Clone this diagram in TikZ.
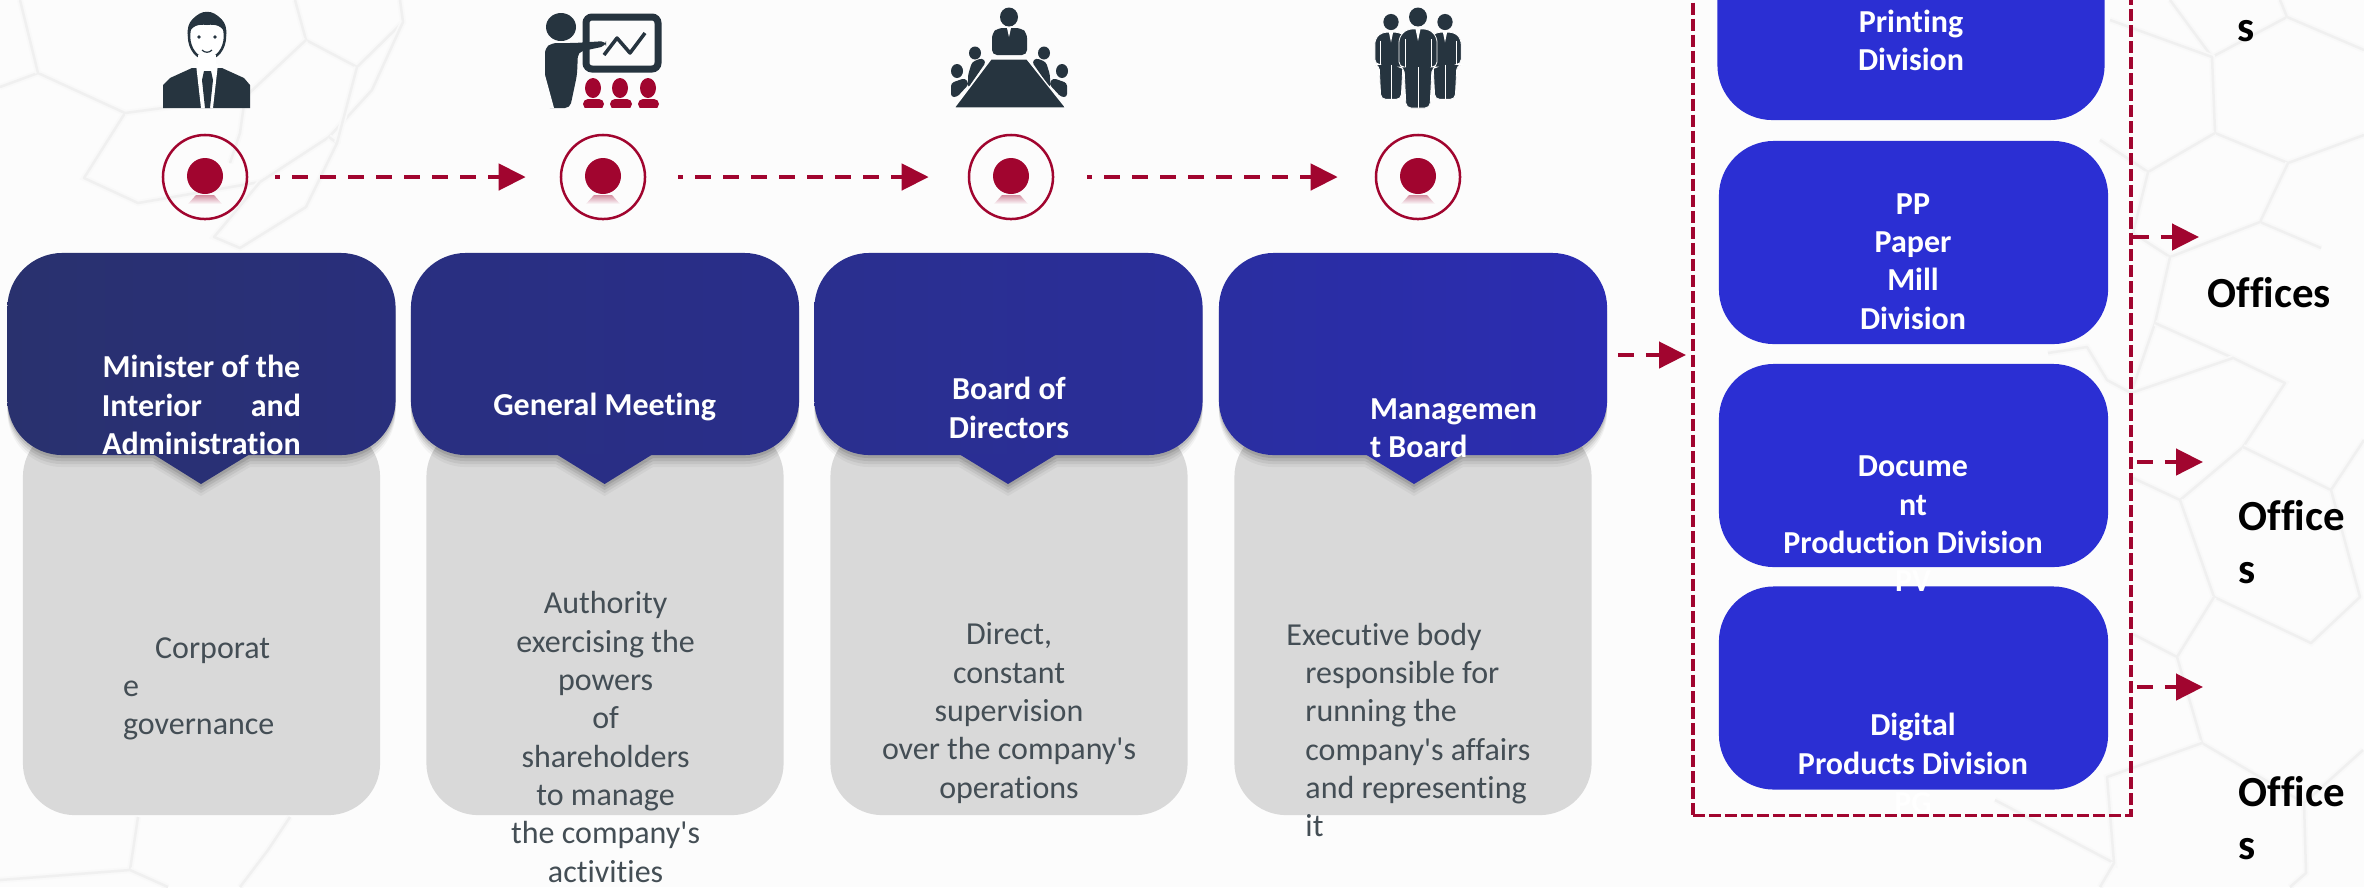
\documentclass[tikz,border=0pt]{standalone}
\usepackage{fontspec}
\setmainfont[Ligatures=NoCommon]{Carlito}
\usetikzlibrary{arrows.meta,positioning}

\definecolor{crimson}{HTML}{A1052F}
\definecolor{icondark}{HTML}{26343F}
\definecolor{divblue}{HTML}{2B2FD3}
\definecolor{cardgray}{HTML}{D9D9D9}
\definecolor{bodytext}{HTML}{444E55}
\definecolor{pagebg}{HTML}{FCFCFC}

\tikzset{
  hexline/.style={draw=black!6,line width=0.025cm,line join=round,
    preaction={draw=black!2.5,line width=0.06cm}},
  hdrshadow/.style={
    preaction={fill=black,opacity=.04,transform canvas={yshift=-0.12cm}},
    preaction={fill=black,opacity=.06,transform canvas={yshift=-0.09cm}},
    preaction={fill=black,opacity=.08,transform canvas={yshift=-0.06cm}},
    preaction={fill=black,opacity=.10,transform canvas={yshift=-0.03cm}}},
  card/.style={fill=cardgray,rounded corners=0.52cm,inner sep=0pt,
    minimum width=3.57cm,minimum height=3.9cm},
  hdrbox/.style={rounded corners=0.55cm,inner sep=0pt,hdrshadow,
    minimum width=3.88cm,minimum height=2.02cm},
  divbox/.style={fill=divblue,rounded corners=0.55cm,inner sep=0pt,
    minimum width=3.89cm,minimum height=2.03cm},
  hdrtext/.style={text=white,font=\fontsize{9.1}{10.9}\selectfont\bfseries,align=center,inner sep=0pt},
  bodylabel/.style={text=bodytext,font=\fontsize{9.1}{10.9}\selectfont,align=center,inner sep=0pt},
  officelabel/.style={text=black,font=\fontsize{12.2}{15}\selectfont\bfseries,align=left,inner sep=0pt,anchor=west},
  ring/.style={circle,draw=crimson,line width=0.025cm,minimum size=0.84cm,inner sep=0pt},
  dashflow/.style={draw=crimson,line width=0.045cm,dash pattern=on 0.16cm off 0.12cm,dash phase=0.11cm,
    -{Triangle[length=0.27cm,width=0.26cm,fill=crimson]}},
  dashstub/.style={dashflow,dash phase=0cm}
}

% ring with its red dot and the dot's faded reflection
\newcommand{\reddot}[2]{
  \node (#1) at (#2,177) [ring] {};
  \fill[crimson] (#2,176) circle (18);
  \shade[top color=crimson!45,bottom color=pagebg] (#2-9,195) -- (#2+9,195) -- (#2+17,204) -- (#2-17,204) -- cycle;
}

% standing figure in a suit, head centre at #1,#2
\newcommand{\suitman}[3]{
  \begin{scope}[shift={(#1,#2)},scale=#3]
    \fill[icondark] (0,0) ellipse (9 and 9.5);
    \filldraw[icondark,draw=white,line width=0.008cm,rounded corners=0.05cm]
      (-19,50) -- (-19,20) -- (-11,12) -- (11,12) -- (19,20) -- (19,50) -- (14,50) -- (12,91) -- (-12,91) -- (-14,50) -- cycle;
    \draw[white,line width=0.008cm] (0,50) -- (0,91) (-13,22) -- (-13,50) (13,22) -- (13,50);
    \fill[white] (-2.5,12) -- (2.5,12) -- (0,24) -- cycle;
  \end{scope}
}

\begin{document}
\begin{tikzpicture}[x=0.01cm,y=-0.01cm]
  \useasboundingbox (0,0) rectangle (2364,887);
  \clip (0,0) rectangle (2364,887);
  \fill[pagebg] (0,0) rectangle (2364,887);

  % background mesh
  \draw[hexline] (295,0) -- (306,40) -- (357,67) -- (403,22) -- (400,0);
  \draw[hexline] (306,40) -- (245,97) -- (240,133) -- (230,163);
  \draw[hexline] (0,87) -- (38,73) -- (125,113) -- (84,178) -- (138,203) -- (260,182) -- (329,137) -- (372,90) -- (403,22);
  \draw[hexline] (20,0) -- (38,73);
  \draw[hexline] (125,113) -- (245,97);
  \draw[hexline] (329,137) -- (337,143) -- (306,207) -- (240,248) -- (214,237) -- (260,182);
  \draw[hexline] (357,67) -- (337,143);
  \draw[hexline] (0,880) -- (130,870) -- (138,817);
  \draw[hexline] (130,870) -- (168,887);
  \draw[hexline] (290,817) -- (268,850) -- (240,887);
  \draw[hexline] (2170,0) -- (2212,57) -- (2287,17) -- (2280,0);
  \draw[hexline] (2287,17) -- (2364,50);
  \draw[hexline] (2110,20) -- (2212,57) -- (2215,133) -- (2288,163) -- (2364,135);
  \draw[hexline] (2100,140) -- (2148,172) -- (2215,133);
  \draw[hexline] (2288,163) -- (2260,222) -- (2321,248);
  \draw[hexline] (2148,172) -- (2133,233) -- (2170,257) -- (2260,222);
  \draw[hexline] (2170,257) -- (2155,323) -- (2131,393) -- (2107,380) -- (2087,347) -- (2048,353);
  \draw[hexline] (2155,323) -- (2233,358) -- (2285,383) -- (2243,447) -- (2180,500) -- (2131,477);
  \draw[hexline] (2131,393) -- (2233,358);
  \draw[hexline] (2243,447) -- (2331,490) -- (2364,440);
  \draw[hexline] (2180,500) -- (2214,597) -- (2311,643) -- (2360,597) -- (2331,490);
  \draw[hexline] (2214,597) -- (2177,657) -- (2131,633);
  \draw[hexline] (2177,657) -- (2202,743) -- (2304,803) -- (2363,750);
  \draw[hexline] (2202,743) -- (2107,777) -- (2114,863) -- (1995,800);
  \draw[hexline] (2304,803) -- (2306,873) -- (2290,887);
  \draw[hexline] (2114,863) -- (2100,887);

  % dark figures above the rings
  \fill[icondark] (163,108) -- (163,85) -- (170,78) -- (192,68) -- (222,68) -- (244,78) -- (250,85) -- (250,108) -- cycle;
  \fill[white] (196,64) -- (218,64) -- (213,108) -- (201,108) -- cycle;
  \fill[icondark] (204,71) -- (211,71) -- (213,80) -- (210,108) -- (205,108) -- (202,80) -- cycle;
  \filldraw[fill=white,draw=icondark,line width=0.025cm] (207,36) ellipse (18 and 23);
  \fill[white] (198,55) rectangle (216,68);
  \fill[icondark] (188,36) .. controls (183,6) and (231,6) .. (226,36) .. controls (223,25) and (215,24) .. (207,25) .. controls (199,24) and (191,25) .. (188,36) -- cycle;
  \fill[icondark] (199,37) circle (1.8) (215,37) circle (1.8);
  \draw[icondark,line width=0.012cm] (202,50) .. controls (205,53) and (209,53) .. (212,50);

  % presenter and board
  \fill[icondark] (561,27) ellipse (15 and 14);
  \fill[icondark,rounded corners=0.05cm] (545,108) -- (545,48) -- (552,43) -- (574,43) -- (606,41) -- (606,46) -- (578,52) -- (577,75) -- (570,108) -- cycle;
  \fill[pagebg] (545,75) -- (545,108) -- (554,108) -- cycle;
  \draw[icondark,line width=0.07cm,rounded corners=0.06cm] (586,17) rectangle (658,69);
  \draw[icondark,line width=0.035cm,line join=round] (604,55) -- (617,38) -- (630,53) -- (645,33);
  \fill[crimson] (593,88) ellipse (8 and 10) (620,88) ellipse (8 and 10) (648,88) ellipse (8 and 10);
  \fill[crimson,rounded corners=0.05cm] (583,109) -- (583,99) -- (604,99) -- (604,109) -- cycle;
  \fill[crimson,rounded corners=0.05cm] (610,109) -- (610,99) -- (632,99) -- (632,109) -- cycle;
  \fill[crimson,rounded corners=0.05cm] (638,109) -- (638,99) -- (659,99) -- (659,109) -- cycle;
  \fill[pagebg] (575,108) rectangle (665,115);

  % board table
  \fill[icondark] (1009,17) ellipse (9 and 9.5);
  \fill[icondark,rounded corners=0.05cm] (992,55) -- (992,33) -- (998,28) -- (1021,28) -- (1027,33) -- (1027,55) -- cycle;
  \fill[white] (1007,28) -- (1011,28) -- (1009,37) -- cycle;
  \fill[icondark] (975,53) ellipse (6 and 6.5) (957,71) ellipse (6 and 7) (1044,53) ellipse (6 and 6.5) (1062,71) ellipse (6 and 7);
  \fill[icondark,rounded corners=0.03cm] (968,75) -- (972,62) -- (982,58) -- (986,62) -- (968,88) -- cycle;
  \fill[icondark,rounded corners=0.03cm] (1050,75) -- (1046,62) -- (1036,58) -- (1032,62) -- (1050,88) -- cycle;
  \fill[icondark,rounded corners=0.03cm] (951,97) -- (951,83) -- (965,78) -- (969,84) -- (957,97) -- cycle;
  \fill[icondark,rounded corners=0.03cm] (1067,97) -- (1067,83) -- (1053,78) -- (1049,84) -- (1061,97) -- cycle;
  \filldraw[fill=icondark,draw=white,line width=0.012cm] (991,59) -- (1027,59) -- (1066,108) -- (954,108) -- cycle;
  \fill[pagebg] (945,108) rectangle (1075,115);

  % management group
  \suitman{1391}{22}{0.85}
  \suitman{1445}{22}{0.85}
  \suitman{1418}{17}{1}

  % rings and dashed flow
  \reddot{ringA}{205}
  \reddot{ringB}{603}
  \reddot{ringC}{1011}
  \reddot{ringD}{1418}
  \draw[dashflow,shorten <=0.27cm,shorten >=0.34cm] (ringA) -- (ringB);
  \draw[dashflow,shorten <=0.32cm,shorten >=0.39cm] (ringB) -- (ringC);
  \draw[dashflow,shorten <=0.33cm,shorten >=0.37cm] (ringC) -- (ringD);

  % cards
  \node (cardA) at (201.5,620) [card] {};
  \node (cardB) at (605,620) [card] {};
  \node (cardC) at (1009,620) [card] {};
  \node (cardD) at (1413,620) [card] {};

  % headers
  \path[hdrshadow] (153,455) -- (201,484) -- (250,455) -- cycle;
  \path[hdrshadow] (556,455) -- (604.6,484) -- (653,455) -- cycle;
  \path[hdrshadow] (959,455) -- (1008,484) -- (1057,455) -- cycle;
  \path[hdrshadow] (1365,455) -- (1414,484) -- (1463,455) -- cycle;
  \node (hdrA) at (201.5,354) [hdrbox,left color={rgb,255:red,41;green,49;blue,110},right color={rgb,255:red,41;green,47;blue,124}] {};
  \node (hdrB) at (605,354) [hdrbox,left color={rgb,255:red,41;green,47;blue,128},right color={rgb,255:red,41;green,46;blue,138}] {};
  \node (hdrC) at (1008.5,354) [hdrbox,left color={rgb,255:red,42;green,47;blue,142},right color={rgb,255:red,42;green,46;blue,154}] {};
  \node (hdrD) at (1413,354) [hdrbox,left color={rgb,255:red,42;green,46;blue,160},right color={rgb,255:red,43;green,44;blue,178}] {};
  \fill[fill={rgb,255:red,41;green,48;blue,117}] (153,454) -- (201,484) -- (250,454) -- cycle;
  \fill[fill={rgb,255:red,41;green,46;blue,133}] (556,454) -- (604.6,484) -- (653,454) -- cycle;
  \fill[fill={rgb,255:red,42;green,46;blue,148}] (959,454) -- (1008,484) -- (1057,454) -- cycle;
  \fill[fill={rgb,255:red,42;green,45;blue,169}] (1365,454) -- (1414,484) -- (1463,454) -- cycle;

  % header texts
  \node (nameA) at (201.5,405) [hdrtext] {Minister of the\\\makebox[1.99cm][s]{Interior\hfill and}\\Administration};
  \node (nameB) at (604.6,407) [hdrtext] {General Meeting};
  \node (nameC) at (1009,408) [hdrtext] {Board of\\Directors};
  \node (nameD) at (1369.4,428) [hdrtext,anchor=west,align=left] {Managemen\\t Board};

  % card texts
  \node (infoA) at (122.4,689) [bodylabel,anchor=west,align=left] {\hspace*{0.32cm}Corporat\\e\\governance};
  \node (infoB) at (605.6,737) [bodylabel] {Authority\\exercising the\\powers\\of\\shareholders\\to manage\\the company\textquotesingle s\\activities};
  \node (infoC) at (1009,713) [bodylabel] {Direct,\\constant\\supervision\\over the company\textquotesingle s\\operations};
  \node (infoD) at (1285.7,730) [bodylabel,anchor=west,align=left] {Executive body\\\hspace*{0.19cm}responsible for\\\hspace*{0.19cm}running the\\\hspace*{0.19cm}company\textquotesingle s affairs\\\hspace*{0.19cm}and representing\\\hspace*{0.19cm}it};

  % divisions
  \node (divA) at (1911,18.5) [divbox,minimum width=3.87cm] {};
  \node (divB) at (1913.5,242.5) [divbox] {};
  \node (divC) at (1913.5,465.5) [divbox] {};
  \node (divD) at (1913.5,688) [divbox] {};
  \node (frame) at (1912,375) [draw=crimson,line width=0.035cm,dash pattern=on 0.12cm off 0.04cm,minimum width=4.38cm,minimum height=8.8cm,inner sep=0pt] {};

  \node (nameDivA) at (1911,40.5) [hdrtext] {Printing\\Division};
  \node (nameDivB) at (1913,261.5) [hdrtext] {PP\\Paper\\Mill\\Division};
  \node (nameDivC) at (1913,505) [hdrtext] {Docume\\nt\\Production Division};
  \node (hiddenC) at (1913,581) [hdrtext] {PV};
  \node (nameDivD) at (1913,744) [hdrtext] {Digital\\Products Division};
  \node (hiddenD) at (1913,803) [hdrtext] {PG};

  % offices
  \coordinate (into) at (1686,355);
  \coordinate (outB) at (2199,237);
  \coordinate (outC) at (2203,462);
  \coordinate (outD) at (2203,687);
  \draw[dashflow,dash phase=0cm,shorten <=0.1cm] (hdrD.east |- into) -- (into);
  \draw[dashstub] (frame.east |- outB) -- (outB);
  \draw[dashstub,shorten <=0.04cm] (frame.east |- outC) -- (outC);
  \draw[dashstub,shorten <=0.04cm] (frame.east |- outD) -- (outD);

  \node (officeA) at (2237,31) [officelabel] {s};
  \node (officeB) at (2207,293) [officelabel] {Offices};
  \node (officeC) at (2238,542) [officelabel] {Office\\s};
  \node (officeD) at (2238,818) [officelabel] {Office\\s};
\end{tikzpicture}
\end{document}
